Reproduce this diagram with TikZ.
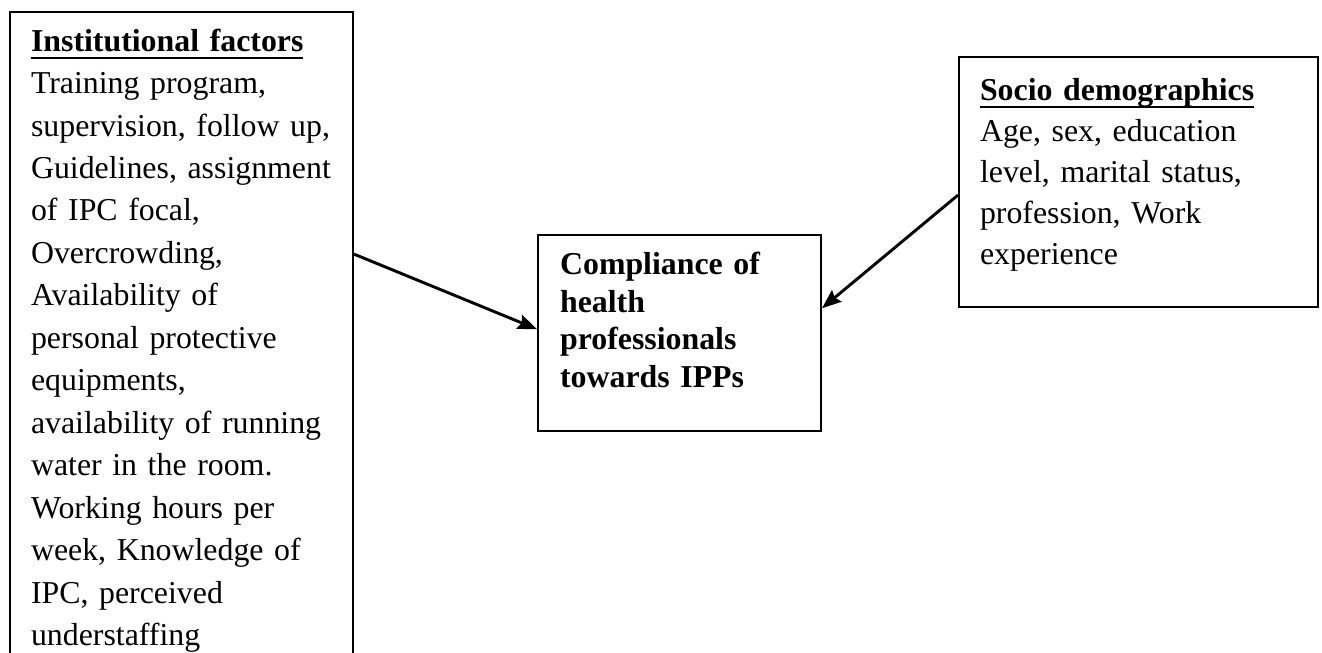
\documentclass[tikz,border=0pt]{standalone}
\usepackage{fontspec}
\setmainfont{Liberation Serif}
\usetikzlibrary{arrows.meta,positioning}
\newsavebox{\headbox}
\newcommand{\ulhead}[1]{\sbox{\headbox}{\bfseries #1}\rlap{\rule[-3.1pt]{\wd\headbox}{1pt}}\usebox{\headbox}}
\tikzset{factbox/.style={draw,line width=0.8pt,anchor=north west,align=left,inner xsep=7.9pt,inner ysep=3.7pt,text height=11pt}}
\tikzset{infl/.style={line width=1.1pt,-{Stealth[length=7.2pt,width=5.6pt,inset=1pt]}}}

\begin{document}
\begin{tikzpicture}[x=0.3768pt,y=-0.3768pt]
\useasboundingbox (0,0) rectangle (1322,652);
\node (inst) at (9,11) [factbox,text width=113.4pt,text depth=260pt,font=\fontsize{12}{16}\selectfont]
  {\ulhead{Institutional factors}\\ Training program,\\ supervision, follow up,\\ Guidelines, assignment\\ of IPC focal,\\ Overcrowding,\\ Availability of\\ personal protective\\ equipments,\\ availability of running\\ water in the room.\\ Working hours per\\ week, Knowledge of\\ IPC, perceived\\ understaffing};
\node (comp) at (537,234) [factbox,text width=90pt,inner xsep=8.3pt,text depth=55.5pt,font=\bfseries\fontsize{12}{14.3}\selectfont]
  {Compliance of\\ health\\ professionals\\ towards IPPs};
\node (socio) at (958,56) [factbox,text width=119.5pt,inner ysep=5.2pt,text depth=72.8pt,font=\fontsize{12}{15.5}\selectfont]
  {\ulhead{Socio demographics}\\ Age, sex, education\\ level, marital status,\\ profession, Work\\ experience};
% influences
\coordinate (instout) at ([yshift=-91.6pt]inst.north east);
\coordinate (sociout) at ([yshift=-4.9pt]socio.west);
\draw[infl] (instout) -- ([yshift=1.5pt]comp.west);
\draw[infl] (sociout) -- ([yshift=9.4pt]comp.east);
\end{tikzpicture}
\end{document}
